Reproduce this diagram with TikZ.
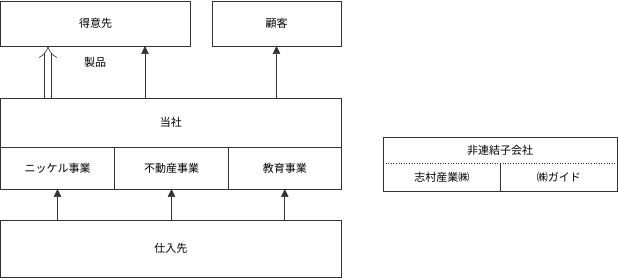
\documentclass[tikz,border=0pt]{standalone}
\usepackage{fontspec}
\newfontfamily\jp{Noto Sans CJK JP}
\usetikzlibrary{positioning,arrows.meta,calc}
\definecolor{linegray}{HTML}{333333}

\begin{document}
\begin{tikzpicture}[
  x=1pt, y=1pt,
  font=\jp\fontsize{11}{13}\selectfont,
  box/.style={draw=linegray, line width=0.6pt, inner sep=0pt, outer sep=0pt, align=center},
  cell/.style={inner sep=0pt, outer sep=0pt, align=center},
  arr/.style={-{Triangle[length=8pt, width=7.5pt]}, line width=0.6pt, draw=linegray},
  dbl/.style={-{Implies}, double, double distance=6pt, line width=0.6pt, draw=linegray}
]
\useasboundingbox (0,0) rectangle (618,278);
% ---------- customers (top) ----------
\node[box, minimum width=190, minimum height=45, anchor=north west] (tokui) at (0.5,277) {得意先};
\node[box, minimum width=129, minimum height=45, anchor=north west] (kokyaku) at (212,277) {顧客};
% ---------- company and its businesses ----------
\node[box, minimum width=340.5, minimum height=49, anchor=north west] (tosha) at (0.5,180) {当社};
\node[box, minimum width=114, minimum height=42, anchor=north west] (nickel) at (tosha.south west) {ニッケル事業};
\node[box, minimum width=114, minimum height=42, right=0pt of nickel] (fudosan) {不動産事業};
\node[box, minimum width=112.5, minimum height=42, right=0pt of fudosan] (kyoiku) {教育事業};
% ---------- suppliers ----------
\node[box, minimum width=340.5, minimum height=56.5, anchor=north west] (shiire) at (0.5,57.5) {仕入先};
% ---------- unconsolidated subsidiaries ----------
\node[cell, minimum width=234, minimum height=26, anchor=north west] (hiren) at (383,141) {非連結子会社};
\node[cell, minimum width=117.5, minimum height=28, anchor=north west] (shimura) at (hiren.south west) {志村産業㈱};
\node[cell, minimum width=116.5, minimum height=28, right=0pt of shimura] (guide) {㈱ガイド};
\draw[line width=0.6pt, draw=linegray] (hiren.north west) rectangle (guide.south east);
\draw[line width=0.6pt, draw=linegray, dotted] (hiren.south west) -- (hiren.south east);
\draw[line width=0.6pt, draw=linegray] (shimura.north east) -- (shimura.south east);
% ---------- arrows ----------
\coordinate (pa) at (48,232);
\coordinate (pb) at (145,232);
\node (seihin) at (95,216) {製品};
\draw[dbl] (pa |- tosha.north) -- (pa);
\draw[arr] (pb |- tosha.north) -- (pb);
\draw[arr] (kokyaku.south |- tosha.north) -- (kokyaku.south);
\draw[arr] (nickel.south |- shiire.north) -- (nickel.south);
\draw[arr] (fudosan.south |- shiire.north) -- (fudosan.south);
\draw[arr] (kyoiku.south |- shiire.north) -- (kyoiku.south);
\end{tikzpicture}
\end{document}
